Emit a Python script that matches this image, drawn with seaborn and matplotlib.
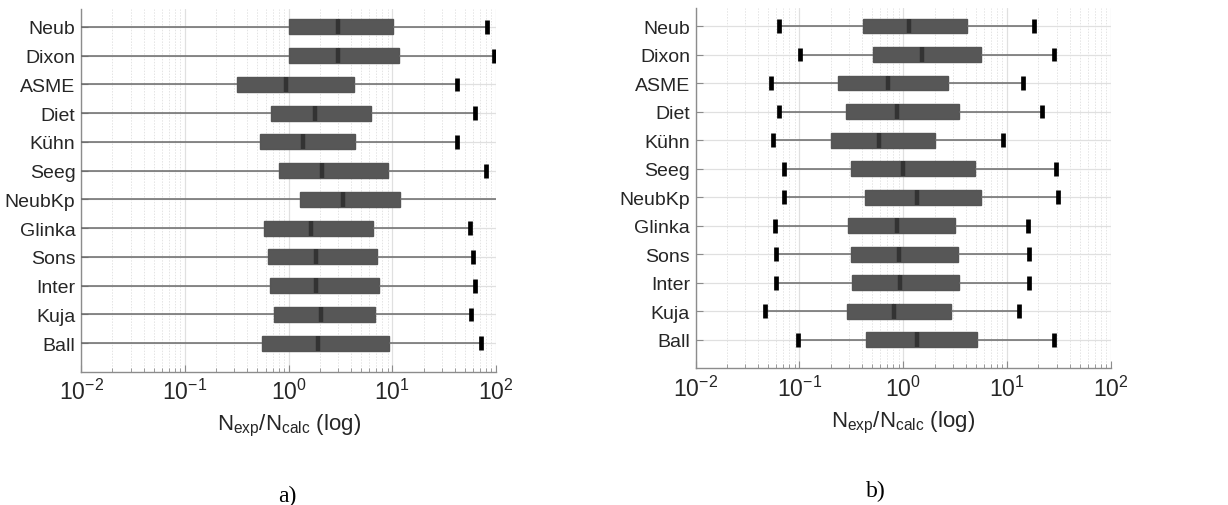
import numpy as np
import pandas as pd
import matplotlib
matplotlib.use("Agg")
import matplotlib.pyplot as plt
import matplotlib.ticker as mticker
import seaborn as sns

# methods, top to bottom
methods = ["Neub", "Dixon", "ASME", "Diet", "Kühn", "Seeg", "NeubKp",
           "Glinka", "Sons", "Inter", "Kuja", "Ball"]

# panel a) five-number summaries of N_exp/N_calc (lower whiskers run off the axis)
a_low = [0.005, 0.005, 0.005, 0.005, 0.005, 0.005, 0.005, 0.005, 0.005, 0.005, 0.005, 0.005]
a_q1 = [1.0, 1.0, 0.32, 0.67, 0.53, 0.80, 1.28, 0.58, 0.64, 0.66, 0.73, 0.56]
a_med = [2.97, 2.97, 0.95, 1.78, 1.37, 2.11, 3.34, 1.63, 1.82, 1.83, 2.05, 1.90]
a_q3 = [10.1, 11.6, 4.3, 6.26, 4.32, 9.0, 11.9, 6.5, 7.15, 7.48, 6.8, 9.33]
a_high = [81, 94.6, 42.3, 62, 41.6, 80, 150, 55.6, 59.8, 62, 57.7, 71]

# panel b)
b_low = [0.0636, 0.101, 0.0527, 0.063, 0.0552, 0.0705, 0.0714, 0.0577, 0.059, 0.059, 0.0466, 0.096]
b_q1 = [0.41, 0.51, 0.235, 0.283, 0.20, 0.315, 0.43, 0.295, 0.31, 0.32, 0.285, 0.434]
b_med = [1.14, 1.51, 0.71, 0.86, 0.58, 1.0, 1.34, 0.86, 0.91, 0.935, 0.81, 1.35]
b_q3 = [4.1, 5.56, 2.71, 3.41, 2.0, 4.9, 5.56, 3.15, 3.34, 3.44, 2.86, 5.13]
b_high = [18.3, 28.5, 14.1, 21.8, 9.05, 29.5, 30.9, 15.9, 16.3, 16.4, 12.9, 28.5]


def to_long(low, q1, med, q3, high):
    rows = []
    for i, m in enumerate(methods):
        for v in (low[i], q1[i], med[i], q3[i], high[i]):
            rows.append({"method": m, "ratio": v})
    return pd.DataFrame(rows)


df_a = to_long(a_low, a_q1, a_med, a_q3, a_high)
df_b = to_long(b_low, b_q1, b_med, b_q3, b_high)

sns.set_style("ticks")
plt.rcParams["font.family"] = ["Liberation Sans", "DejaVu Sans"]
plt.rcParams["mathtext.fontset"] = "custom"
plt.rcParams["mathtext.rm"] = "Liberation Sans"
plt.rcParams["mathtext.it"] = "Liberation Sans"

fig = plt.figure(figsize=(12.28, 5.06), dpi=100)
ax_a = fig.add_axes([0.066, 0.263, 0.338, 0.717])
ax_b = fig.add_axes([0.5665, 0.270, 0.3382, 0.7116])

for ax, df, cap, cap_x in ((ax_a, df_a, "a)", 0.497), (ax_b, df_b, "b)", 0.434)):
    sns.boxplot(data=df, x="ratio", y="method", order=methods, orient="y",
                ax=ax, log_scale=True, whis=(0, 100), width=0.52,
                color="#575757", saturation=1, linecolor="#555555",
                linewidth=1, showfliers=False,
                medianprops=dict(color="#333333", linewidth=3.2),
                whiskerprops=dict(color="#6a6a6a", linewidth=1.1),
                capprops=dict(color="black", linewidth=3.4, solid_capstyle="butt"),
                capwidths=0.48, zorder=3)
    ax.set_xlim(1e-2, 1e2)
    ax.set_ylim(12.0, -0.62)
    ax.xaxis.set_major_locator(mticker.LogLocator(base=10, numticks=10))
    ax.xaxis.set_minor_locator(mticker.LogLocator(base=10, subs=np.arange(2, 10), numticks=10))
    ax.xaxis.set_minor_formatter(mticker.NullFormatter())
    ax.grid(True, which="major", axis="both", color="#e0e0e0", linewidth=0.9, zorder=0)
    ax.grid(True, which="minor", axis="x", color="#e4e4e4", linewidth=0.7,
            linestyle=(0, (1.5, 1.5)), zorder=0)
    ax.set_axisbelow(True)
    for s in ("top", "right"):
        ax.spines[s].set_visible(False)
    for s in ("left", "bottom"):
        ax.spines[s].set_color("#8c8c8c")
        ax.spines[s].set_linewidth(1.0)
    ax.tick_params(axis="both", which="both", direction="in", color="#8c8c8c")
    ax.tick_params(axis="y", length=5, labelsize=14, labelcolor="#262626", pad=4)
    ax.tick_params(axis="x", which="major", length=5, labelsize=16.5,
                   labelcolor="#262626", pad=5)
    ax.tick_params(axis="x", which="minor", length=3)
    ax.set_ylabel("")
    ax.set_xlabel(r"$\mathregular{N_{exp}/N_{calc}}$ (log)", fontsize=16,
                  color="#262626", labelpad=6)
    ax.text(cap_x, -0.34, cap, transform=ax.transAxes, ha="center", va="center",
            fontsize=17, family=["Liberation Serif", "DejaVu Serif"], color="black")

fig.savefig("out.png", dpi=100)
